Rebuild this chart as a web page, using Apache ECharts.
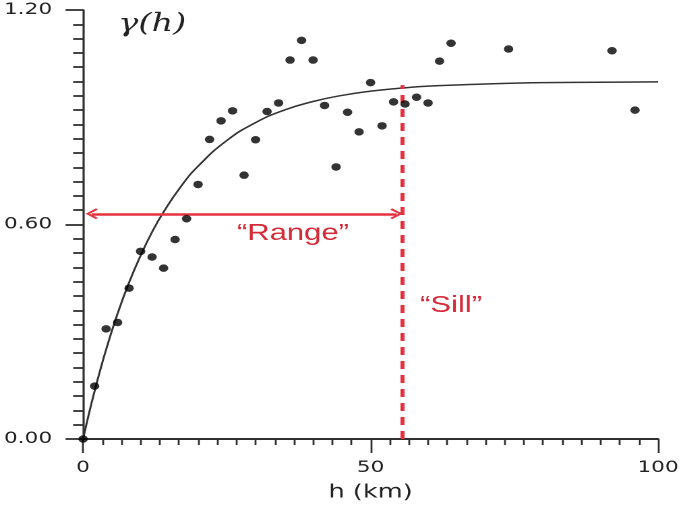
<!DOCTYPE html>
<html><head><meta charset="utf-8">
<script src="https://cdn.jsdelivr.net/npm/echarts@6/dist/echarts.min.js"></script>
<style>
html,body{margin:0;padding:0;background:#fff;overflow:hidden;}
#wrap{width:685px;height:507px;overflow:hidden;}
#c{width:508px;height:507px;transform:scaleX(1.3484);transform-origin:0 0;}
</style></head>
<body><div id="wrap"><div id="c"></div></div>
<script>
// Empirical semivariogram points (lag h in km, semivariance)
const lagH = [0,2,4,6,8,10,12,14,16,18,20,22,24,26,28,30,32,34,36,38,40,42,44,46,48,50,52,54,56,58,60,62,64,74,92,96];
const gammaVals = [0,0.148,0.308,0.326,0.422,0.525,0.509,0.478,0.558,0.616,0.712,0.838,0.890,0.918,0.738,0.837,0.916,0.940,1.060,1.115,1.060,0.933,0.761,0.914,0.859,0.997,0.876,0.943,0.937,0.956,0.940,1.057,1.107,1.091,1.086,0.920];
// Fitted model curve
const modelH = [0,1,2,3,4,6,8,10,12,14,17,20,25,30,35,40,45,50,55,60,70,80,90,100];
const modelVals = [0,0.070,0.134,0.194,0.250,0.351,0.438,0.513,0.579,0.635,0.706,0.763,0.835,0.885,0.920,0.944,0.961,0.973,0.981,0.987,0.993,0.997,0.998,0.999];
// Annotations
const rangeArrow = {from:[1.5,0.63], to:[54.5,0.63]};
const sillLine = {h:55.5, top:0.99};
const rangeLabel = {text:'\u201CRange\u201D', at:[36.5,0.575]};
const sillLabel = {text:'\u201CSill\u201D', at:[64,0.373]};
// Axis ticks
const xTicks = {min:0, max:100, interval:50, minorSplit:15};
const yTicks = {min:0, max:1.2, interval:0.6, minorSplit:15};

const red = '#e5323e';
const redText = '#d42b38';
const axisCol = '#303030';
const chart = echarts.init(document.getElementById('c'), null, {renderer:'canvas', devicePixelRatio:2});
const scatterData = lagH.map((h,i)=>[h,gammaVals[i]]);
const curveData = modelH.map((h,i)=>[h,modelVals[i]]);
const chevron = 'path://M5,0 L10,8.6 L8.7,10 L5,3.4 L1.3,10 L0,8.6 Z';

chart.setOption({
  animation:false,
  grid:{left:60, right:20, top:10, bottom:68},
  xAxis:{
    type:'value', min:xTicks.min, max:xTicks.max, interval:xTicks.interval,
    name:'h (km)', nameLocation:'middle', nameGap:44,
    nameTextStyle:{fontFamily:'DejaVu Sans', fontSize:19, color:'#222'},
    axisLine:{show:true, onZero:false, lineStyle:{color:axisCol, width:2}},
    axisTick:{show:true, length:14, lineStyle:{color:axisCol, width:1.4}},
    minorTick:{show:true, splitNumber:xTicks.minorSplit, length:6, lineStyle:{color:axisCol, width:1.4}},
    splitLine:{show:false},
    axisLabel:{fontFamily:'DejaVu Sans', fontSize:16, color:'#222', margin:21}
  },
  yAxis:{
    type:'value', min:yTicks.min, max:yTicks.max, interval:yTicks.interval,
    name:'\u03B3(h)', nameLocation:'end', nameGap:-2,
    nameTextStyle:{fontFamily:'DejaVu Serif', fontStyle:'italic', fontSize:25, color:'#222', align:'left', verticalAlign:'top', padding:[0,0,0,26]},
    axisLine:{show:true, onZero:false, lineStyle:{color:axisCol, width:1.6}},
    axisTick:{show:true, length:13, lineStyle:{color:axisCol, width:1.8}},
    minorTick:{show:true, splitNumber:yTicks.minorSplit, length:7.4, lineStyle:{color:axisCol, width:1.8}},
    splitLine:{show:false},
    axisLabel:{fontFamily:'DejaVu Sans', fontSize:16, color:'#222', margin:23, formatter:v=>v.toFixed(2)}
  },
  series:[
    {
      type:'line', data:curveData, smooth:true, showSymbol:false, silent:true,
      lineStyle:{color:'#333', width:1.5}, z:3,
      markLine:{
        silent:true, animation:false,
        data:[
          [{coord:rangeArrow.from, symbol:chevron, symbolSize:[11,9]},
           {coord:rangeArrow.to, symbol:chevron, symbolSize:[11,9]}]
        ],
        lineStyle:{color:red, width:2.5, type:'solid'},
        label:{show:false}
      }
    },
    {
      type:'line', data:[], silent:true,
      markLine:{
        silent:true, animation:false, symbol:'none',
        data:[[{coord:[sillLine.h,0]},{coord:[sillLine.h,sillLine.top]}]],
        lineStyle:{color:red, width:3, type:[8,6]},
        label:{show:false}
      },
      markPoint:{
        silent:true, animation:false, symbol:'circle', symbolSize:1,
        itemStyle:{color:'rgba(0,0,0,0)'},
        label:{show:true, position:'inside', fontFamily:'Liberation Sans', fontSize:23, color:redText, formatter:p=>p.name},
        data:[
          {name:rangeLabel.text, coord:rangeLabel.at},
          {name:sillLabel.text, coord:sillLabel.at}
        ]
      }
    },
    {
      type:'scatter', data:scatterData, symbol:'circle', symbolSize:[7,7.5],
      itemStyle:{color:'#000'}, z:5
    }
  ]
});
</script></body></html>
